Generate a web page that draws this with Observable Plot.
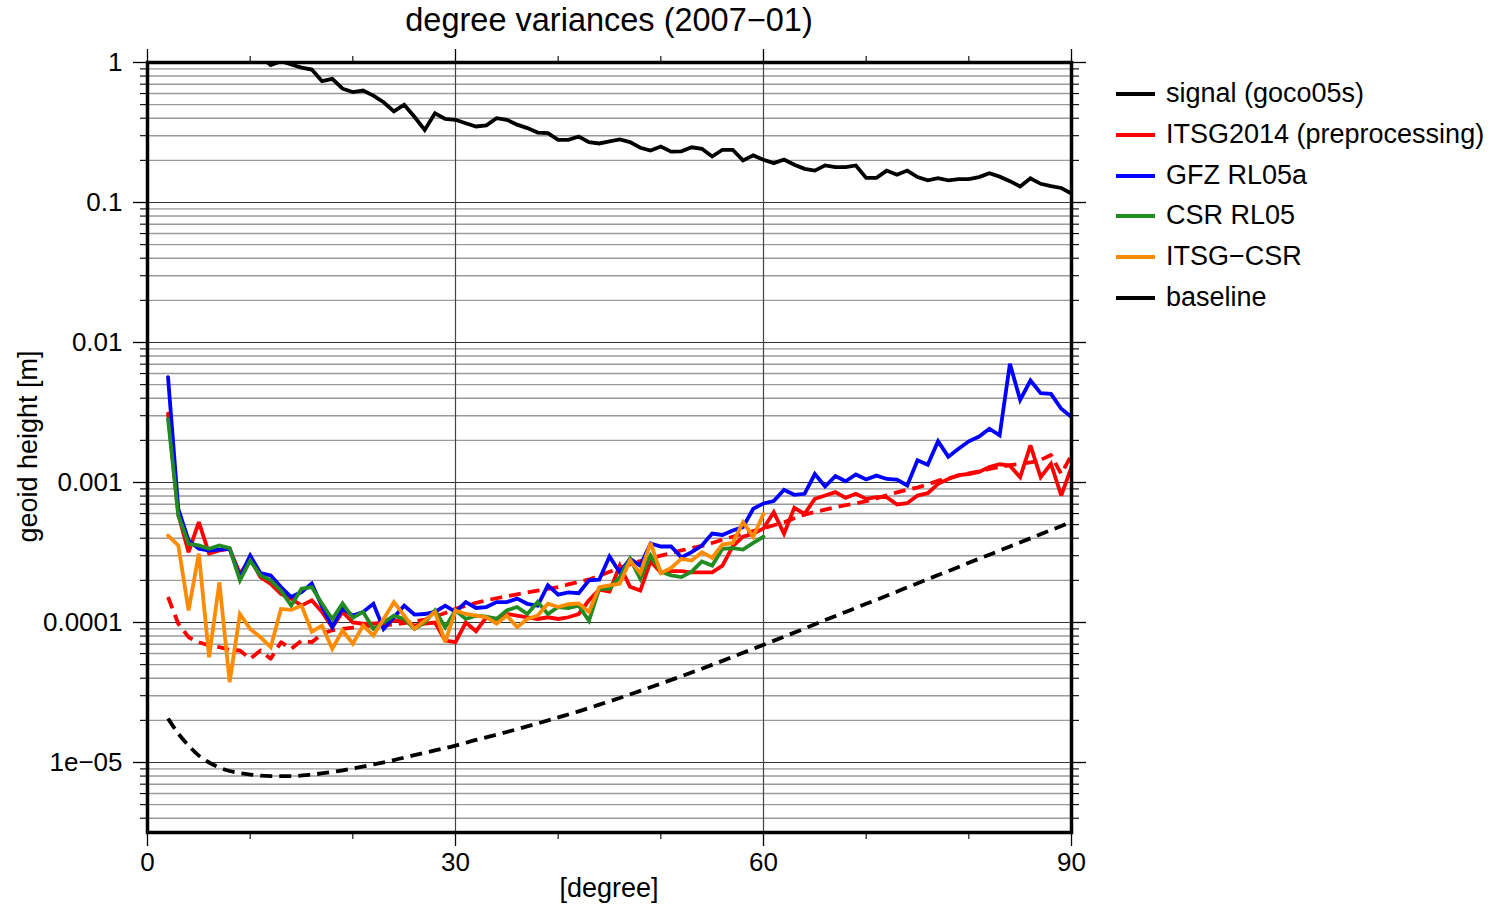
<!DOCTYPE html>
<html>
<head>
<meta charset="utf-8">
<script src="https://cdn.jsdelivr.net/npm/d3@7"></script>
<script src="https://cdn.jsdelivr.net/npm/@observablehq/plot@0.6"></script>
<style>
  body { margin: 0; background: #fff; font-family: "Liberation Sans", Arial, sans-serif; color: #000; }
  #wrap { position: relative; width: 1502px; height: 908px; overflow: hidden; background: #fff; }
  #chart { position: absolute; left: 0; top: 0; }
  .title { position: absolute; left: 309px; width: 600px; top: 4px; text-align: center; font-size: 32.5px; line-height: 32px; white-space: nowrap; }
  .xlabel { position: absolute; left: 459px; width: 300px; top: 875px; text-align: center; font-size: 27px; line-height: 27px; }
  .ylabel { position: absolute; left: -122px; width: 300px; top: 433px; text-align: center; font-size: 27px; line-height: 27px; transform: rotate(-90deg); transform-origin: 150px 13.5px; white-space: nowrap; }
  .item { position: absolute; left: 1116px; height: 27px; font-size: 27px; line-height: 27px; white-space: nowrap; }
  .item .sw { position: absolute; left: 0; top: 12px; width: 39px; height: 4px; }
  .item .lab { position: absolute; left: 50px; top: 0; }
</style>
</head>
<body>
<div id="wrap">
  <div id="chart"></div>
  <div class="title">degree variances (2007−01)</div>
  <div class="xlabel">[degree]</div>
  <div class="ylabel">geoid height [m]</div>
  <div id="legend"></div>
</div>
<script>
// ---------- data ----------
const degrees = d3.range(2, 91);        // spherical harmonic degree 2..90
const degreesShort = d3.range(2, 61);   // CSR / ITSG-CSR up to degree 60

const signal = [
  3.2, 4.9, 3.4, 2.8, 2.4, 2.1, 1.6, 1.45, 1.35, 1.1,
  0.96, 1.02, 0.967, 0.92, 0.89, 0.735, 0.765, 0.65, 0.614, 0.63,
  0.58, 0.52, 0.447, 0.50, 0.41, 0.33, 0.434, 0.396, 0.39, 0.368,
  0.349, 0.356, 0.40, 0.39, 0.36, 0.34, 0.316, 0.313, 0.28, 0.28,
  0.296, 0.27, 0.264, 0.273, 0.282, 0.270, 0.246, 0.235, 0.251, 0.231,
  0.232, 0.248, 0.242, 0.213, 0.238, 0.238, 0.2, 0.217, 0.202, 0.191,
  0.203, 0.186, 0.174, 0.169, 0.184, 0.179, 0.179, 0.184, 0.150, 0.150,
  0.169, 0.158, 0.169, 0.152, 0.144, 0.149, 0.144, 0.147, 0.147, 0.152,
  0.162, 0.153, 0.142, 0.130, 0.149, 0.136, 0.131, 0.127, 0.116
];

const itsg2014 = [
  3.1e-3, 5.9e-4, 3.18e-4, 5.21e-4, 3.1e-4, 3.27e-4, 3.36e-4, 2.23e-4, 2.85e-4, 2.11e-4,
  1.89e-4, 1.6e-4, 1.48e-4, 1.32e-4, 1.44e-4, 1.19e-4, 9.25e-5, 1.19e-4, 1.0e-4, 9.8e-5,
  9.8e-5, 1.0e-4, 1.03e-4, 1.03e-4, 9.5e-5, 9.8e-5, 1.0e-4, 7.43e-5, 7.23e-5, 1.0e-4,
  8.67e-5, 1.09e-4, 1.06e-4, 1.15e-4, 1.12e-4, 1.09e-4, 1.06e-4, 1.09e-4, 1.06e-4, 1.09e-4,
  1.15e-4, 1.44e-4, 1.72e-4, 1.66e-4, 2.55e-4, 1.8e-4, 1.69e-4, 2.73e-4, 2.28e-4, 2.33e-4,
  2.33e-4, 2.28e-4, 2.28e-4, 2.28e-4, 2.55e-4, 3.5e-4, 4.1e-4, 4.3e-4, 4.7e-4, 6.14e-4,
  4.3e-4, 6.59e-4, 5.97e-4, 7.64e-4, 8.07e-4, 8.53e-4, 7.77e-4, 8.3e-4, 7.64e-4, 7.85e-4,
  7.85e-4, 6.97e-4, 7.11e-4, 8.07e-4, 8.39e-4, 9.78e-4, 1.06e-3, 1.13e-3, 1.15e-3, 1.19e-3,
  1.29e-3, 1.35e-3, 1.32e-3, 1.09e-3, 1.84e-3, 1.09e-3, 1.36e-3, 8.07e-4, 1.29e-3
];

const itsg2014Formal = [
  1.52e-4, 9.8e-5, 7.85e-5, 7.23e-5, 6.85e-5, 6.67e-5, 6.38e-5, 6.31e-5, 5.5e-5, 6.31e-5,
  5.5e-5, 7.23e-5, 6.49e-5, 7.43e-5, 7.23e-5, 8.3e-5, 8.8e-5, 9.0e-5, 9.2e-5, 9.4e-5,
  9.5e-5, 9.6e-5, 9.7e-5, 9.9e-5, 1.02e-4, 1.05e-4, 1.10e-4, 1.17e-4, 1.25e-4, 1.32e-4,
  1.38e-4, 1.44e-4, 1.49e-4, 1.54e-4, 1.59e-4, 1.64e-4, 1.69e-4, 1.74e-4, 1.79e-4, 1.87e-4,
  1.95e-4, 2.03e-4, 2.15e-4, 2.30e-4, 2.45e-4, 2.6e-4, 2.75e-4, 2.88e-4, 3.0e-4, 3.13e-4,
  3.27e-4, 3.4e-4, 3.52e-4, 3.7e-4, 3.9e-4, 4.1e-4, 4.3e-4, 4.5e-4, 4.7e-4, 4.95e-4,
  5.2e-4, 5.55e-4, 5.9e-4, 6.15e-4, 6.4e-4, 6.65e-4, 6.9e-4, 7.1e-4, 7.35e-4, 7.7e-4,
  8.1e-4, 8.5e-4, 8.9e-4, 9.2e-4, 9.7e-4, 1.03e-3, 1.07e-3, 1.12e-3, 1.16e-3, 1.2e-3,
  1.25e-3, 1.29e-3, 1.33e-3, 1.36e-3, 1.39e-3, 1.45e-3, 1.57e-3, 1.15e-3, 1.57e-3
];

const gfzRL05a = [
  5.65e-3, 6.49e-4, 3.85e-4, 3.36e-4, 3.27e-4, 3.32e-4, 3.36e-4, 2.11e-4, 3.01e-4, 2.25e-4,
  2.17e-4, 1.79e-4, 1.52e-4, 1.65e-4, 1.90e-4, 1.30e-4, 9.25e-5, 1.26e-4, 1.12e-4, 1.19e-4,
  1.36e-4, 9.0e-5, 1.09e-4, 1.32e-4, 1.14e-4, 1.15e-4, 1.19e-4, 1.32e-4, 1.19e-4, 1.40e-4,
  1.27e-4, 1.29e-4, 1.40e-4, 1.40e-4, 1.48e-4, 1.36e-4, 1.32e-4, 1.84e-4, 1.58e-4, 1.64e-4,
  1.62e-4, 2.0e-4, 2.02e-4, 2.96e-4, 2.28e-4, 2.85e-4, 2.55e-4, 3.67e-4, 3.49e-4, 3.49e-4,
  2.92e-4, 3.18e-4, 3.55e-4, 4.32e-4, 4.22e-4, 4.54e-4, 4.80e-4, 6.49e-4, 7.08e-4, 7.36e-4,
  8.87e-4, 8.17e-4, 8.3e-4, 1.15e-3, 9.36e-4, 1.11e-3, 1.02e-3, 1.14e-3, 1.05e-3, 1.12e-3,
  1.06e-3, 1.05e-3, 9.52e-4, 1.44e-3, 1.34e-3, 1.97e-3, 1.53e-3, 1.74e-3, 1.97e-3, 2.13e-3,
  2.42e-3, 2.17e-3, 7.05e-3, 3.89e-3, 5.35e-3, 4.35e-3, 4.3e-3, 3.36e-3, 2.93e-3
];

const csrRL05 = [
  2.85e-3, 5.81e-4, 3.65e-4, 3.55e-4, 3.36e-4, 3.55e-4, 3.4e-4, 2.0e-4, 2.77e-4, 2.17e-4,
  2.0e-4, 1.69e-4, 1.32e-4, 1.74e-4, 1.79e-4, 1.36e-4, 1.06e-4, 1.37e-4, 1.08e-4, 1.19e-4,
  9.0e-5, 1.0e-4, 1.12e-4, 1.06e-4, 9.0e-5, 1.0e-4, 1.22e-4, 9.25e-5, 1.22e-4, 1.06e-4,
  1.12e-4, 1.10e-4, 1.06e-4, 1.22e-4, 1.29e-4, 1.15e-4, 1.40e-4, 1.15e-4, 1.29e-4, 1.27e-4,
  1.32e-4, 1.03e-4, 1.74e-4, 1.74e-4, 2.11e-4, 2.85e-4, 2.05e-4, 3.01e-4, 2.31e-4, 2.17e-4,
  2.11e-4, 2.31e-4, 2.73e-4, 2.55e-4, 3.36e-4, 3.4e-4, 3.32e-4, 3.7e-4, 4.1e-4
];

const itsgMinusCsr = [
  4.18e-4, 3.55e-4, 1.22e-4, 3.1e-4, 5.65e-5, 1.94e-4, 3.75e-5, 1.15e-4, 9.0e-5, 7.85e-5,
  6.67e-5, 1.25e-4, 1.23e-4, 1.32e-4, 8.6e-5, 9.5e-5, 6.49e-5, 8.77e-5, 7.05e-5, 9.5e-5,
  8.07e-5, 1.06e-4, 1.40e-4, 1.12e-4, 9.0e-5, 1.03e-4, 1.19e-4, 7.23e-5, 1.22e-4, 1.15e-4,
  1.12e-4, 1.09e-4, 9.8e-5, 1.12e-4, 9.25e-5, 1.06e-4, 1.12e-4, 1.36e-4, 1.29e-4, 1.35e-4,
  1.37e-4, 1.19e-4, 1.79e-4, 1.84e-4, 1.89e-4, 2.77e-4, 2.25e-4, 3.7e-4, 2.25e-4, 2.45e-4,
  2.85e-4, 2.77e-4, 3.18e-4, 2.9e-4, 3.6e-4, 3.7e-4, 5.21e-4, 4.1e-4, 5.97e-4
];

const baselineDegrees = [2, 3, 4, 5, 6, 7, 8, 9, 10, 12, 14, 16, 18, 20, 22, 24, 26, 28, 30,
  32, 34, 36, 38, 40, 42, 44, 46, 48, 50, 52, 54, 56, 58, 60, 62, 64, 66, 68, 70,
  72, 74, 76, 78, 80, 82, 84, 86, 88, 90];
const baseline = [2.06e-5, 1.61e-5, 1.32e-5, 1.12e-5, 1.0e-5, 9.2e-6, 8.7e-6, 8.4e-6, 8.2e-6, 8.0e-6,
  8.0e-6, 8.2e-6, 8.55e-6, 9.06e-6, 9.68e-6, 1.04e-5, 1.13e-5, 1.22e-5, 1.32e-5,
  1.45e-5, 1.58e-5, 1.73e-5, 1.90e-5, 2.10e-5, 2.32e-5, 2.59e-5, 2.89e-5, 3.25e-5, 3.66e-5,
  4.13e-5, 4.68e-5, 5.32e-5, 6.07e-5, 6.93e-5, 7.92e-5, 9.06e-5, 1.04e-4, 1.19e-4, 1.36e-4,
  1.55e-4, 1.78e-4, 2.04e-4, 2.33e-4, 2.67e-4, 3.05e-4, 3.49e-4, 3.99e-4, 4.57e-4, 5.23e-4];

// axis ticks and labels
const xMajorTicks = [0, 30, 60, 90];
const xMinorTicks = [10, 20, 40, 50, 70, 80];
const yDecadeTicks = [1, 0.1, 0.01, 0.001, 0.0001, 0.00001];
const yDecadeLabels = ["1", "0.1", "0.01", "0.001", "0.0001", "1e\u221205"];

const legendNames = ["signal (goco05s)", "ITSG2014 (preprocessing)", "GFZ RL05a", "CSR RL05", "ITSG\u2212CSR", "baseline"];
const legendColors = ["#000000", "#ff0000", "#0000ff", "#228b22", "#ff8c00", "#000000"];

// ---------- build ----------
const toRows = (xs, ys) => xs.map((d, i) => ({degree: d, value: ys[i]}));
const yMinor = d3.merge([-6, -5, -4, -3, -2, -1].map(k => [2, 3, 4, 5, 6, 7, 8, 9].map(m => +(m * Math.pow(10, k)).toPrecision(3))))
  .filter(v => v >= Math.pow(10, -5.5) && v < 1);

const lw = 3.8;
const lineOpts = (color, extra = {}) => ({x: "degree", y: "value", stroke: color, strokeWidth: lw, strokeLinejoin: "miter", strokeMiterlimit: 3, clip: true, ...extra});
const fmtY = d => yDecadeLabels[yDecadeTicks.indexOf(d)];

const chart = Plot.plot({
  width: 1100,
  height: 908,
  marginLeft: 147,
  marginRight: 29,
  marginTop: 62,
  marginBottom: 76,
  style: {fontFamily: "'Liberation Sans', Arial, sans-serif", fontSize: "26px", background: "white", color: "black", overflow: "visible"},
  x: {domain: [0, 90]},
  y: {type: "log", domain: [Math.pow(10, -5.5), 1]},
  marks: [
    Plot.ruleY(yMinor, {stroke: "#9a9a9a", strokeWidth: 1.4}),
    Plot.ruleY(yDecadeTicks, {stroke: "#333", strokeWidth: 1.2}),
    Plot.ruleX([30, 60], {stroke: "#444", strokeWidth: 1.2}),
    Plot.line(toRows(degrees, signal), lineOpts(legendColors[0])),
    Plot.line(toRows(degrees, itsg2014Formal), lineOpts(legendColors[1], {strokeDasharray: "12,7", strokeLinecap: "butt", strokeLinejoin: "round"})),
    Plot.line(toRows(degrees, itsg2014), lineOpts(legendColors[1])),
    Plot.line(toRows(degrees, gfzRL05a), lineOpts(legendColors[2])),
    Plot.line(toRows(degreesShort, csrRL05), lineOpts(legendColors[3])),
    Plot.line(toRows(degreesShort, itsgMinusCsr), lineOpts(legendColors[4])),
    Plot.line(toRows(baselineDegrees, baseline), lineOpts(legendColors[5], {strokeDasharray: "12,7", strokeLinecap: "butt", curve: "monotone-x"})),
    Plot.frame({stroke: "black", strokeWidth: 3.5}),
    Plot.axisY(yDecadeTicks, {anchor: "left", tickSize: 14, tickPadding: 11, tickFormat: fmtY, label: null, strokeWidth: 1.3, fontSize: 26}),
    Plot.axisY(yMinor, {anchor: "left", tickSize: 7, tickFormat: () => "", label: null, strokeWidth: 1.1}),
    Plot.axisY(yDecadeTicks, {anchor: "right", tickSize: 14, tickFormat: () => "", label: null, strokeWidth: 1.3}),
    Plot.axisY(yMinor, {anchor: "right", tickSize: 7, tickFormat: () => "", label: null, strokeWidth: 1.1}),
    Plot.axisX(xMajorTicks, {anchor: "bottom", tickSize: 14, tickPadding: 6, tickFormat: d => String(d), label: null, strokeWidth: 1.3, fontSize: 26}),
    Plot.axisX(xMinorTicks, {anchor: "bottom", tickSize: 7, tickFormat: () => "", label: null, strokeWidth: 1.1}),
    Plot.axisX(xMajorTicks, {anchor: "top", tickSize: 14, tickFormat: () => "", label: null, strokeWidth: 1.3}),
    Plot.axisX(xMinorTicks, {anchor: "top", tickSize: 7, tickFormat: () => "", label: null, strokeWidth: 1.1})
  ]
});
document.getElementById("chart").appendChild(chart);

// legend
const legend = document.getElementById("legend");
const rowY = [94, 135, 175.5, 216, 257, 298];
legendNames.forEach((name, i) => {
  const item = document.createElement("div");
  item.className = "item";
  item.style.top = (rowY[i] - 14) + "px";
  const sw = document.createElement("span");
  sw.className = "sw";
  sw.style.background = legendColors[i];
  const lab = document.createElement("span");
  lab.className = "lab";
  lab.textContent = name;
  item.appendChild(sw);
  item.appendChild(lab);
  legend.appendChild(item);
});
</script>
</body>
</html>
